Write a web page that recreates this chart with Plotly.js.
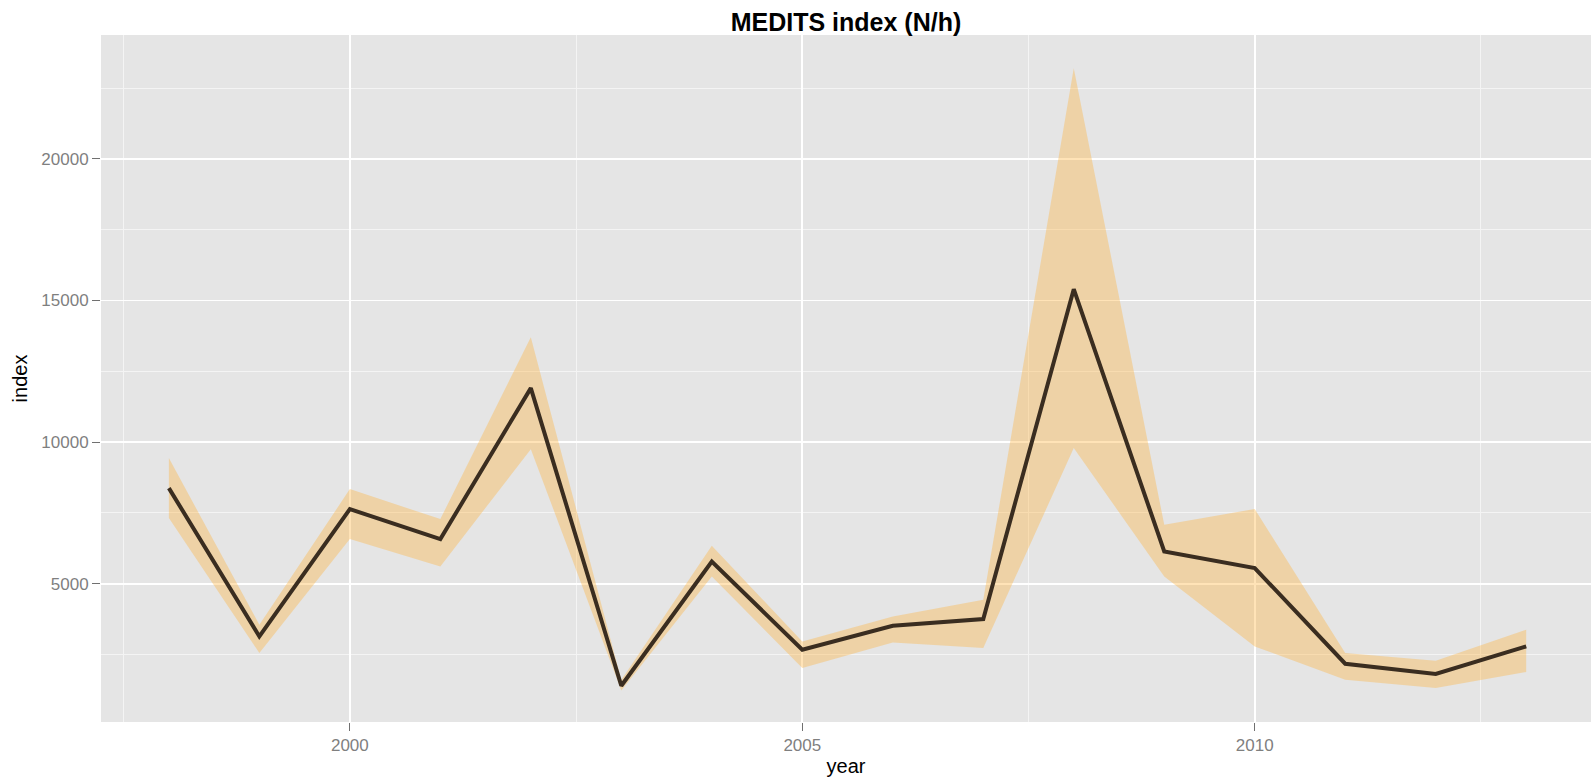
<!DOCTYPE html>
<html>
<head>
<meta charset="utf-8">
<script src="https://cdn.plot.ly/plotly-3.0.1.min.js"></script>
<style>
  html, body { margin: 0; padding: 0; background: #ffffff; }
  #chart { width: 1591px; height: 778px; }
</style>
</head>
<body>
<div id="chart"></div>
<script>
// Data
const years = [1998, 1999, 2000, 2001, 2002, 2003, 2004, 2005, 2006, 2007, 2008, 2009, 2010, 2011, 2012, 2013];
const indexValues = [8378, 3140, 7636, 6578, 11907, 1400, 5788, 2671, 3518, 3755, 15400, 6141, 5555, 2177, 1814, 2788];
const upperValues = [9437, 3554, 8342, 7284, 13707, 1600, 6342, 2964, 3847, 4436, 23200, 7083, 7637, 2555, 2283, 3377];
const lowerValues = [7319, 2555, 6578, 5611, 9754, 1230, 5259, 2026, 2929, 2731, 9790, 5259, 2788, 1613, 1320, 1884];

const chartTitle = "MEDITS index (N/h)";
const xTitle = "year";
const yTitle = "index";

const traces = [
  {
    x: years, y: lowerValues, type: "scatter", mode: "lines",
    line: { width: 0, color: "rgba(0,0,0,0)" },
    showlegend: false, hoverinfo: "skip"
  },
  {
    x: years, y: upperValues, type: "scatter", mode: "lines",
    line: { width: 0, color: "rgba(0,0,0,0)" },
    fill: "tonexty", fillcolor: "rgba(255,178,55,0.36)",
    showlegend: false, hoverinfo: "skip"
  },
  {
    x: years, y: indexValues, type: "scatter", mode: "lines",
    line: { width: 4, color: "#3a2d20" },
    showlegend: false
  }
];

const tickFont = { family: "Liberation Sans, Arial, sans-serif", size: 17, color: "#7f7f7f" };
const titleFont = { family: "Liberation Sans, Arial, sans-serif", size: 20, color: "#000000" };

const layout = {
  width: 1591, height: 778,
  margin: { l: 101, r: 0, t: 35, b: 56, pad: 0 },
  paper_bgcolor: "#ffffff",
  plot_bgcolor: "#e5e5e5",
  showlegend: false,
  title: {
    text: chartTitle,
    font: { family: "Liberation Sans, Arial, sans-serif", size: 25, color: "#000000", weight: "bold" },
    x: 0.5, xref: "paper", xanchor: "center",
    y: 1 - 22 / 778, yref: "container", yanchor: "middle"
  },
  xaxis: {
    range: [1997.25, 2013.716],
    tickmode: "linear", tick0: 2000, dtick: 5,
    ticks: "outside", ticklen: 8, tickwidth: 1, tickcolor: "#707070",
    tickfont: tickFont, tickformat: "d",
    showgrid: true, gridcolor: "#ffffff", gridwidth: 1.6,
    minor: { tickmode: "linear", tick0: 1997.5, dtick: 5, showgrid: true, gridcolor: "#f4f4f4", gridwidth: 1, ticks: "" },
    zeroline: false, showline: false,
    title: { text: xTitle, font: titleFont, standoff: 4 },
    automargin: false
  },
  yaxis: {
    range: [120, 24375],
    tickmode: "linear", tick0: 0, dtick: 5000,
    ticks: "outside", ticklen: 8, tickwidth: 1, tickcolor: "#707070",
    tickfont: tickFont, tickformat: "d",
    showgrid: true, gridcolor: "#ffffff", gridwidth: 1.6,
    minor: { tickmode: "linear", tick0: 2500, dtick: 5000, showgrid: true, gridcolor: "#f4f4f4", gridwidth: 1, ticks: "" },
    zeroline: false, showline: false,
    title: { text: yTitle, font: titleFont, standoff: 8 },
    automargin: false
  }
};

Plotly.newPlot("chart", traces, layout, { displayModeBar: false, staticPlot: true });
</script>
</body>
</html>
